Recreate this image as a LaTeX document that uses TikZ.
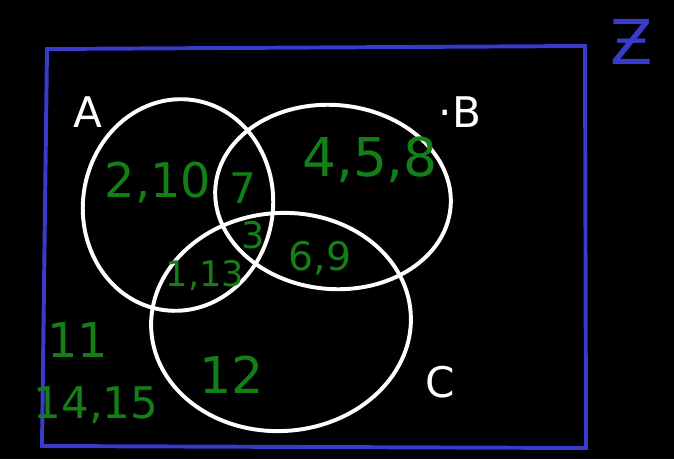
\documentclass[tikz,border=0pt]{standalone}
\usepackage{fontspec}
\usepackage{xcolor}
\setmainfont{DejaVu Sans}
\definecolor{BoardBlue}{RGB}{58,58,205}
\definecolor{ChalkGreen}{RGB}{18,128,22}

\begin{document}
\begin{tikzpicture}[x=0.025cm, y=-0.025cm,
    chalk/.style={draw=white, line width=2.8pt},
    elem/.style={text=ChalkGreen, inner sep=0pt},
    setname/.style={text=white, inner sep=0pt, font=\fontsize{30}{32}\selectfont}]
  % background
  \fill[black] (0,0) rectangle (674,459);
  \useasboundingbox (0,0) rectangle (674,459);

  % universe
  \draw[draw=BoardBlue, line width=2.8pt] (47,49) -- (585,46) -- (586,448) -- (42,446) -- cycle;
  \node[text=BoardBlue, inner sep=0pt, font=\fontsize{44}{46}\selectfont] (universe) at (632,42) {Ƶ};

  % sets
  \draw[chalk, rotate around={-8:(178,205)}] (178,205) ellipse (95 and 106);
  \draw[chalk, rotate around={-5:(333,197)}] (333,197) ellipse (118 and 92);
  \draw[chalk, rotate around={4:(281,322)}] (281,322) ellipse (130 and 109);
  \node[setname] (labA) at (88,112) {A};
  \node[setname] (labB) at (460,112) {·B};
  \node[setname] (labC) at (440,382) {C};

  % elements
  \node[elem, font=\fontsize{34}{36}\selectfont] (onlyA) at (158,183) {2,10};
  \node[elem, font=\fontsize{30}{32}\selectfont] (AB) at (243,188) {7};
  \node[elem, font=\fontsize{26}{28}\selectfont] (ABC) at (253,235) {3};
  \node[elem, font=\fontsize{38}{40}\selectfont] (onlyB) at (370,160) {4,5,8};
  \node[elem, font=\fontsize{25}{27}\selectfont] (AC) at (205,275) {1,13};
  \node[elem, font=\fontsize{28}{30}\selectfont] (BC) at (320,258) {6,9};
  \node[elem, font=\fontsize{36}{38}\selectfont] (onlyC) at (232,375) {12};
  \node[elem, font=\fontsize{34}{36}\selectfont] (outA) at (78,340) {11};
  \node[elem, font=\fontsize{31}{33}\selectfont] (outB) at (96,405) {14,15};
\end{tikzpicture}
\end{document}
